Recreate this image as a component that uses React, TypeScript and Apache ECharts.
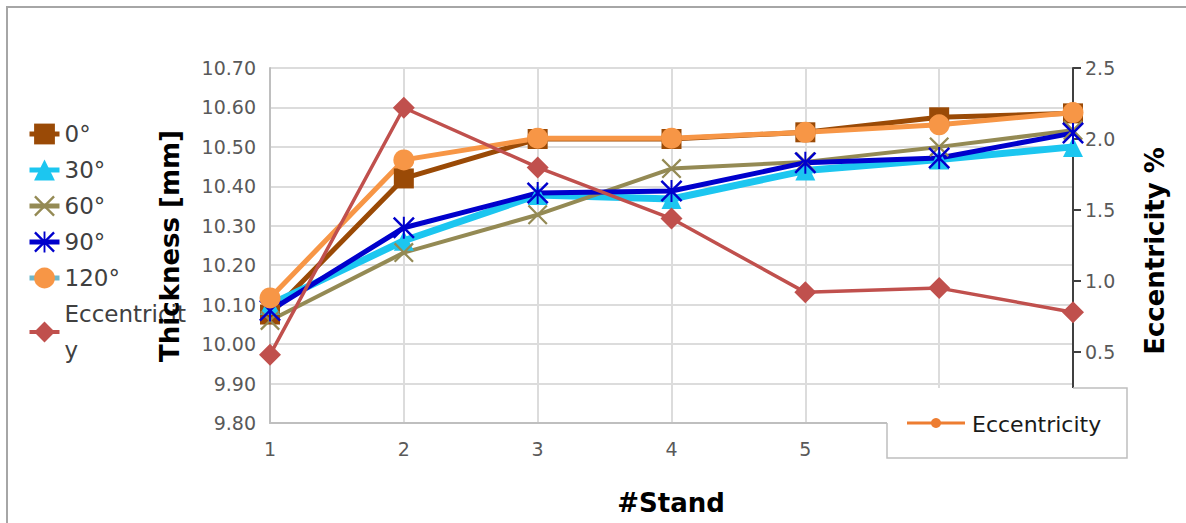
import React, { useEffect, useRef } from "react";
import * as echarts from "echarts";

// Stand numbers along the rolling line
const stands = ["1", "2", "3", "4", "5", "6", "7"];

// Wall thickness [mm] measured at each angular position
const t0 = [10.075, 10.42, 10.52, 10.52, 10.537, 10.575, 10.585];
const t30 = [10.1, 10.262, 10.378, 10.368, 10.44, 10.468, 10.5];
const t60 = [10.06, 10.232, 10.328, 10.445, 10.462, 10.5, 10.542];
const t90 = [10.085, 10.295, 10.383, 10.388, 10.46, 10.472, 10.535];
const t120 = [10.117, 10.467, 10.522, 10.522, 10.537, 10.556, 10.587];

// Eccentricity [%]
const ecc = [0.48, 2.22, 1.8, 1.44, 0.92, 0.95, 0.78];

// Right-axis tick values
const eccTicks = { min: 0, max: 2.5, interval: 0.5 };

const FONT = "DejaVu Sans";

const xMarker =
  "path://M0,0.8L0.8,0L5,4.2L9.2,0L10,0.8L5.8,5L10,9.2L9.2,10L5,5.8L0.8,10L0,9.2L4.2,5Z";
const starMarker =
  "path://M0,0.8L0.8,0L5,4.2L9.2,0L10,0.8L5.8,5L10,9.2L9.2,10L5,5.8L0.8,10L0,9.2L4.2,5Z" +
  "M4.55,0H5.45V10H4.55Z";

export default function App() {
  const ref = useRef<HTMLDivElement>(null);

  useEffect(() => {
    if (!ref.current) return;
    const chart = echarts.init(ref.current, null, { renderer: "svg" });

    const lineSeries = (
      name: string,
      data: number[],
      color: string,
      width: number,
      symbol: string,
      symbolSize: number,
      yAxisIndex = 0
    ) => ({
      name,
      type: "line",
      data,
      yAxisIndex,
      symbol,
      symbolSize,
      showSymbol: true,
      lineStyle: { color, width },
      itemStyle: { color, opacity: 1 },
      emphasis: { disabled: true },
    });

    chart.setOption({
      animation: false,
      backgroundColor: "#ffffff",
      grid: { left: 270, right: 113, top: 68, bottom: 100 },
      legend: {
        orient: "vertical",
        left: 22,
        top: 111,
        itemGap: 0,
        itemWidth: 30,
        itemHeight: 26,
        selectedMode: false,
        lineStyle: { width: 5 },
        textStyle: {
          fontFamily: FONT,
          fontSize: 23,
          color: "#404040",
          lineHeight: 36,
          width: 125,
          overflow: "breakAll",
        },
        data: [
          { name: "0°" },
          { name: "30°" },
          { name: "60°" },
          { name: "90°" },
          { name: "120°", lineStyle: { color: "#6FB7C9", width: 5 } },
          { name: "Eccentricity", lineStyle: { width: 4 } },
        ],
      },
      xAxis: {
        type: "category",
        data: stands,
        boundaryGap: false,
        axisLine: { lineStyle: { color: "#BFBFBF", width: 2 } },
        axisTick: { show: false },
        axisLabel: {
          fontFamily: FONT,
          fontSize: 19,
          color: "#595959",
          margin: 16,
        },
        splitLine: { show: true, lineStyle: { color: "#DCDCDC", width: 2 } },
      },
      yAxis: [
        {
          type: "value",
          min: 9.8,
          max: 10.7,
          interval: 0.1,
          axisLine: { show: true, lineStyle: { color: "#BFBFBF", width: 2 } },
          axisTick: { show: false },
          axisLabel: {
            fontFamily: FONT,
            fontSize: 19,
            color: "#595959",
            margin: 14,
            formatter: (v: number) => v.toFixed(2),
          },
          splitLine: { lineStyle: { color: "#DCDCDC", width: 2 } },
        },
        {
          type: "value",
          position: "right",
          min: eccTicks.min,
          max: eccTicks.max,
          interval: eccTicks.interval,
          axisLine: { show: true, lineStyle: { color: "#404040", width: 2 } },
          axisTick: { show: true, length: 8, lineStyle: { color: "#404040", width: 2 } },
          axisLabel: {
            fontFamily: FONT,
            fontSize: 19,
            color: "#595959",
            margin: 12,
            formatter: (v: number) => (v === 0 ? "" : v.toFixed(1)),
          },
          splitLine: { show: false },
        },
      ],
      series: [
        lineSeries("0°", t0, "#9A4A06", 5, "rect", 20),
        lineSeries("30°", t30, "#1CC6F0", 7, "triangle", 20),
        lineSeries("60°", t60, "#948A54", 4, xMarker, 20),
        lineSeries("90°", t90, "#0000CC", 5, starMarker, 22),
        lineSeries("120°", t120, "#F79646", 5, "circle", 21),
        lineSeries("Eccentricity", ecc, "#C0504D", 3.5, "diamond", 22, 1),
      ],
      graphic: [
        // outer frame
        {
          type: "polyline",
          z: 100,
          shape: { points: [[7, 540], [7, 7], [1190, 7]] },
          style: { stroke: "#A6A6A6", lineWidth: 2, fill: "none" },
        },
        // axis titles
        {
          type: "text",
          z: 100,
          x: 170,
          y: 246,
          rotation: Math.PI / 2,
          style: {
            text: "Thickness [mm]",
            font: `bold 26px "${FONT}"`,
            fill: "#000000",
            align: "center",
            verticalAlign: "middle",
          },
        },
        {
          type: "text",
          z: 100,
          x: 1155,
          y: 251,
          rotation: Math.PI / 2,
          style: {
            text: "Eccentricity %",
            font: `bold 26px "${FONT}"`,
            fill: "#000000",
            align: "center",
            verticalAlign: "middle",
          },
        },
        {
          type: "text",
          z: 100,
          x: 671,
          y: 503,
          style: {
            text: "#Stand",
            font: `bold 26px "${FONT}"`,
            fill: "#000000",
            align: "center",
            verticalAlign: "middle",
          },
        },
        // secondary legend box in the lower-right corner
        {
          type: "rect",
          z: 100,
          shape: { x: 887, y: 388, width: 240, height: 70 },
          style: { fill: "#ffffff", stroke: "none" },
        },
        {
          type: "polyline",
          z: 101,
          shape: {
            points: [
              [887, 423],
              [887, 458],
              [1127, 458],
              [1127, 388],
              [1073, 388],
            ],
          },
          style: { stroke: "#BFBFBF", lineWidth: 1.5, fill: "none" },
        },
        {
          type: "line",
          z: 101,
          shape: { x1: 907, y1: 423, x2: 965, y2: 423 },
          style: { stroke: "#ED7D31", lineWidth: 3 },
        },
        {
          type: "circle",
          z: 102,
          shape: { cx: 936, cy: 423, r: 5 },
          style: { fill: "#ED7D31" },
        },
        {
          type: "text",
          z: 102,
          x: 972,
          y: 424,
          style: {
            text: "Eccentricity",
            font: `22px "${FONT}"`,
            fill: "#1A1A1A",
            align: "left",
            verticalAlign: "middle",
          },
        },
      ],
    });

    return () => chart.dispose();
  }, []);

  return (
    <div
      ref={ref}
      style={{
        position: "fixed",
        left: 0,
        top: 0,
        width: 1186,
        height: 523,
        background: "#ffffff",
      }}
    />
  );
}
